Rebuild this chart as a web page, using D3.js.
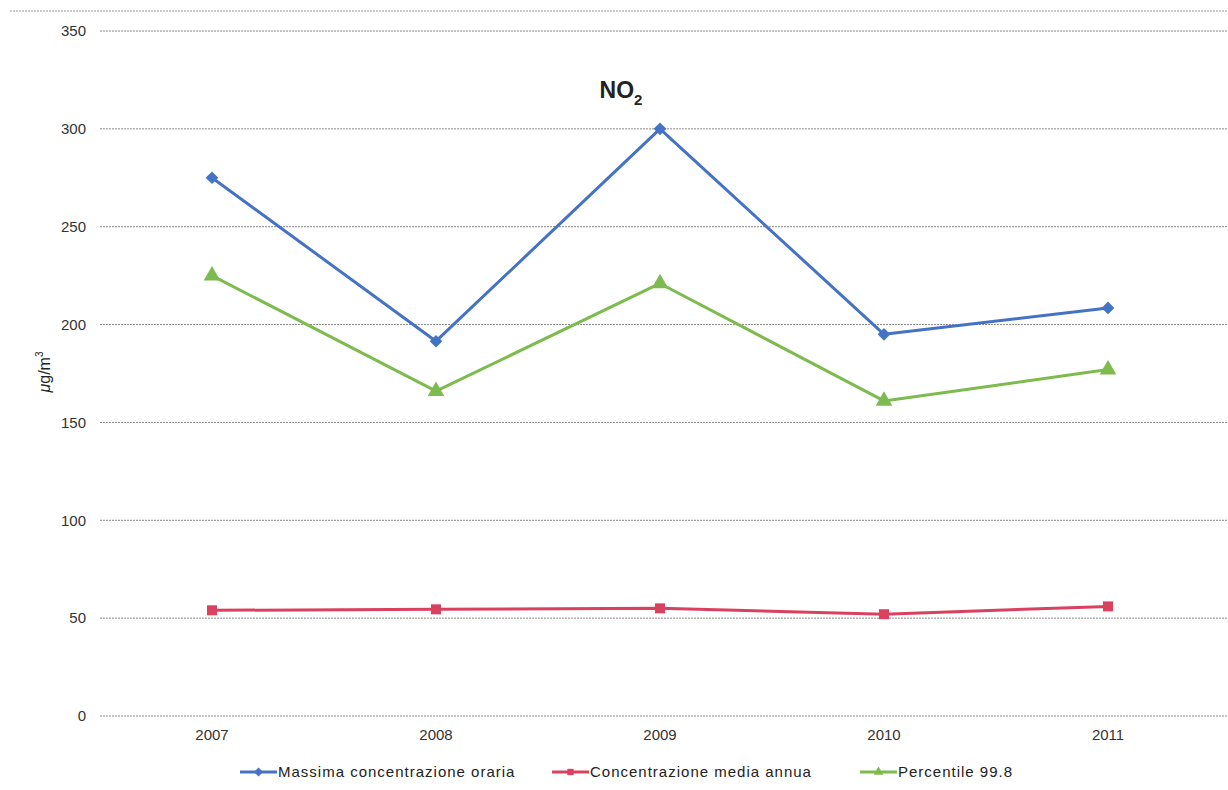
<!DOCTYPE html>
<html><head><meta charset="utf-8">
<script src="https://cdn.jsdelivr.net/npm/d3@7"></script>
<style>body{margin:0;background:#fff}svg{display:block}</style>
</head><body><svg id="c" width="1228" height="790"></svg>
<script>
const years = ["2007","2008","2009","2010","2011"];
const massima = [275, 191.5, 300, 195, 208.5];
const media = [54, 54.5, 55, 52, 56];
const percentile = [225, 166, 221, 161, 177];
const yTicks = [0,50,100,150,200,250,300,350];
const seriesNames = ["Massima concentrazione oraria","Concentrazione media annua","Percentile 99.8"];
const colors = ["#4472C4","#D9415F","#7DBB4E"];
const shapes = [d3.symbolSquare, d3.symbolSquare, d3.symbolTriangle];
const rotations = [45, 0, 0];

const svg = d3.select("#c");
const font = "Arial, 'Liberation Sans', sans-serif";
const x = d3.scaleBand().domain(years).range([100,1220]);
const y = d3.scaleLinear().domain([0,350]).range([716,31]);

// top border line
svg.append("line").attr("x1",10).attr("x2",1228).attr("y1",11).attr("y2",11)
  .attr("stroke","#999").attr("stroke-width",1).attr("stroke-dasharray","2,1");

// gridlines
svg.append("g").selectAll("line").data(yTicks).join("line")
  .attr("x1",100).attr("x2",1228).attr("y1",d=>y(d)).attr("y2",d=>y(d))
  .attr("stroke","#888").attr("stroke-width",1).attr("stroke-dasharray","2,1");

// y axis labels
const yAxis = d3.axisLeft(y).tickValues(yTicks).tickSize(0).tickPadding(0);
const yg = svg.append("g").attr("transform","translate(86,0)").call(yAxis);
yg.select(".domain").remove();
yg.selectAll("text").attr("font-family",font).attr("font-size",15).attr("fill","#333");

// x axis labels
const xAxis = d3.axisBottom(x).tickSize(0).tickPadding(0);
const xg = svg.append("g").attr("transform","translate(0,729)").call(xAxis);
xg.select(".domain").remove();
xg.selectAll("text").attr("font-family",font).attr("font-size",15).attr("fill","#333");

// title
const t = svg.append("text").attr("x",621).attr("y",98).attr("text-anchor","middle")
  .attr("font-family",font).attr("font-weight","bold").attr("font-size",23).attr("fill","#222");
t.append("tspan").text("NO");
t.append("tspan").text("2").attr("font-size",15).attr("dy",7);

// y label
const yl = svg.append("text").attr("transform","translate(50,372) rotate(-90)").attr("text-anchor","middle")
  .attr("font-family",font).attr("font-size",16).attr("fill","#222");
yl.append("tspan").text("\u03bc").attr("font-style","italic");
yl.append("tspan").text("g/m");
yl.append("tspan").text("3").attr("font-size",10).attr("dy",-7);

const data = [massima, media, percentile];
const line = d3.line().x((d,i)=>x(years[i])+x.bandwidth()/2).y(d=>y(d));
const sizes = [80, 100, 120];
data.forEach((s,k)=>{
  svg.append("path").datum(s).attr("d",line).attr("fill","none")
    .attr("stroke",colors[k]).attr("stroke-width",3).attr("stroke-linejoin","round");
  svg.append("g").selectAll("path").data(s).join("path")
    .attr("d",d3.symbol().type(shapes[k]).size(sizes[k]))
    .attr("transform",(d,i)=>`translate(${x(years[i])+x.bandwidth()/2},${y(d)}) rotate(${rotations[k]})`)
    .attr("fill",colors[k]);
});

// legend
const legX = [240, 552, 860];
seriesNames.forEach((n,k)=>{
  const g = svg.append("g").attr("transform",`translate(${legX[k]},772)`);
  g.append("line").attr("x1",0).attr("x2",37).attr("y1",0).attr("y2",0)
    .attr("stroke",colors[k]).attr("stroke-width",3);
  g.append("path").attr("d",d3.symbol().type(shapes[k]).size(40))
    .attr("transform",`translate(18.5,0) rotate(${rotations[k]})`).attr("fill",colors[k]);
  g.append("text").attr("x",38).attr("y",5).text(n)
    .attr("font-family",font).attr("font-size",15).attr("letter-spacing",1).attr("fill","#222");
});
</script></body></html>
